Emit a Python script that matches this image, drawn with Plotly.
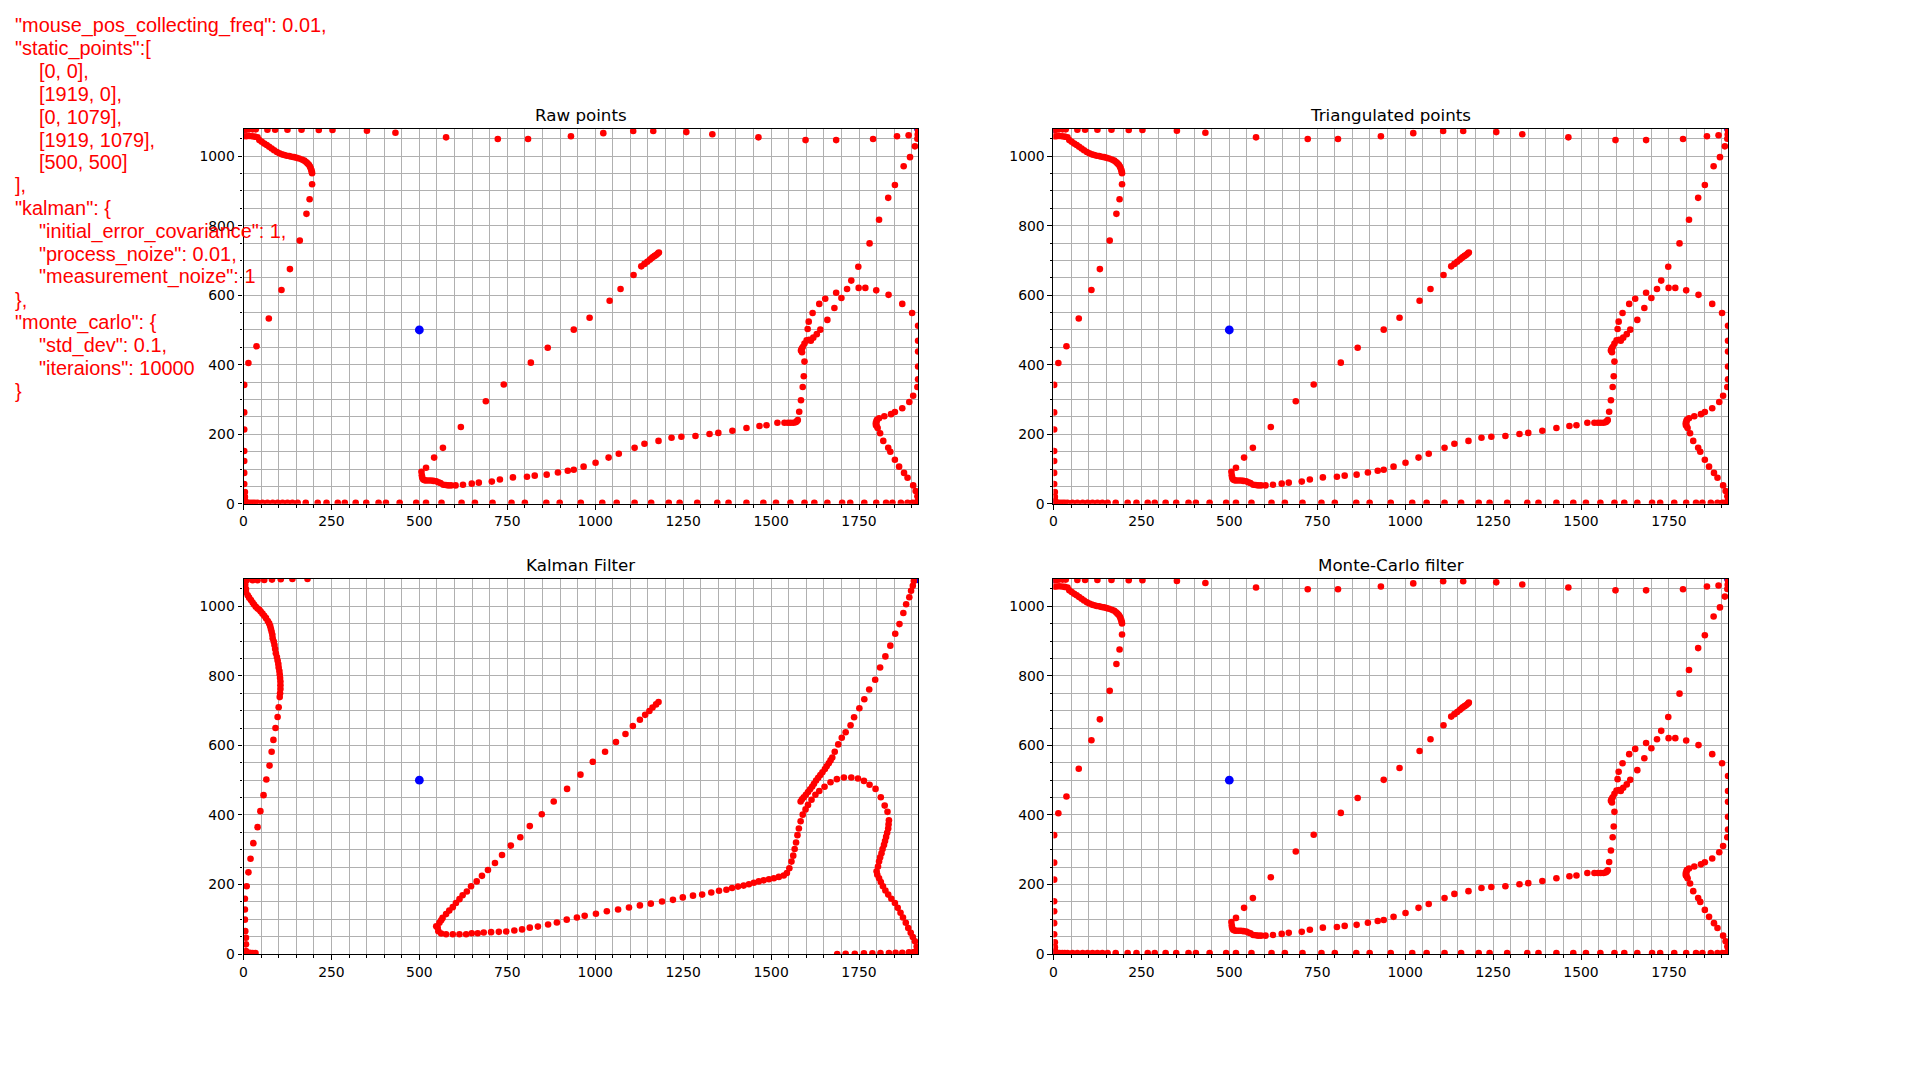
import plotly.graph_objects as go

W, H = 1920, 1080

# ---------------- data ----------------
static_pts = [(0, 0), (1919, 0), (0, 1079), (1919, 1079), (500, 500)]

raw_top = [(0, 1076), (8, 1076), (16, 1077), (26, 1077), (35, 1077), (68, 1076), (90, 1076),
           (125, 1076), (165, 1076), (214, 1075), (253, 1075), (351, 1073), (432, 1067),
           (576, 1054), (723, 1049), (809, 1049), (931, 1057), (1023, 1066), (1108, 1072),
           (1165, 1072), (1259, 1069), (1333, 1063), (1464, 1054), (1598, 1046), (1685, 1046),
           (1790, 1049), (1858, 1057), (1891, 1060), (1916, 1050), (1917, 1062), (1918, 1074)]

raw_left = [(0, 1057), (8, 1057), (16, 1058), (24, 1057), (32, 1056), (40, 1054), (45, 1046),
            (52, 1041), (59, 1036), (66, 1032), (73, 1027), (80, 1022), (87, 1017), (95, 1012),
            (102, 1008), (109, 1005), (116, 1003), (123, 1001), (130, 1000), (137, 998),
            (144, 997), (151, 995), (158, 993), (166, 990), (173, 987), (178, 983), (182, 979),
            (186, 975), (189, 970), (191, 965), (193, 960), (194, 955), (195, 951), (195, 919),
            (188, 876), (179, 834), (160, 757), (132, 675), (108, 615), (72, 533), (37, 453),
            (14, 405), (2, 342), (2, 263), (2, 214), (2, 152), (2, 123), (2, 89), (2, 57),
            (4, 34), (4, 20), (5, 8)]

raw_bottom_x = [2, 11, 18, 25, 32, 40, 54, 68, 83, 97, 111, 125, 139, 154, 177, 211, 236, 268,
                288, 319, 349, 384, 405, 444, 491, 519, 563, 620, 658, 708, 762, 800, 861, 899,
                959, 1020, 1061, 1112, 1159, 1209, 1240, 1290, 1347, 1379, 1430, 1478, 1514, 1555,
                1595, 1623, 1660, 1702, 1725, 1765, 1799, 1827, 1845, 1869, 1888, 1902, 1910,
                1916, 1919]
raw_bottom_level = 3

raw_lower = [(506, 92), (507, 82), (508, 76), (511, 70), (515, 68), (519, 67), (526, 67),
             (533, 67), (540, 66), (548, 65), (554, 62), (560, 60), (568, 55), (575, 54),
             (582, 53), (590, 53), (603, 53), (624, 55), (649, 58), (669, 61), (706, 64),
             (729, 70), (766, 76), (806, 78), (828, 81), (862, 84), (894, 90), (922, 95),
             (939, 98), (967, 107), (1001, 118), (1038, 133), (1067, 144), (1112, 161),
             (1140, 173), (1180, 181), (1217, 190), (1245, 193), (1285, 195), (1325, 201),
             (1350, 204), (1390, 210), (1430, 218), (1467, 224), (1487, 226), (1518, 233),
             (1538, 233), (1548, 233), (1556, 233), (1564, 233), (1571, 235), (1574, 238),
             (1576, 241)]

raw_diag = [(519, 104), (542, 133), (567, 161), (618, 221), (689, 295), (740, 343), (817, 406),
            (865, 449), (939, 501), (984, 535), (1041, 584), (1072, 618), (1109, 658),
            (1131, 683), (1140, 690), (1148, 696), (1155, 702), (1160, 706), (1164, 710),
            (1169, 713), (1174, 716), (1178, 720), (1181, 723)]

raw_rise = [(1580, 265), (1585, 298), (1590, 336), (1593, 367), (1595, 409), (1588, 436),
            (1585, 441), (1587, 446), (1590, 451), (1595, 461), (1601, 470), (1608, 472),
            (1613, 469), (1620, 478), (1630, 488), (1640, 501), (1604, 503), (1607, 524),
            (1618, 549), (1637, 575), (1654, 590), (1685, 607), (1716, 618), (1728, 642),
            (1748, 682), (1780, 749), (1807, 817), (1833, 880), (1852, 917), (1877, 971),
            (1895, 997), (1909, 1028), (1660, 529), (1680, 563), (1700, 592), (1749, 621),
            (1768, 621), (1799, 614), (1834, 601), (1873, 575), (1901, 549)]

raw_right = [(1918, 512), (1918, 469), (1918, 438), (1918, 395), (1918, 358), (1916, 336),
             (1904, 311), (1893, 293), (1873, 275), (1852, 264), (1841, 258), (1822, 252),
             (1807, 246), (1801, 242), (1800, 238), (1798, 233), (1799, 230), (1798, 227),
             (1800, 224), (1803, 218), (1810, 203), (1819, 181), (1833, 161), (1839, 150),
             (1852, 127), (1864, 107), (1878, 89), (1888, 75), (1904, 53), (1911, 37),
             (1916, 22), (1918, 8)]

kal_left = [(2, 1075), (5, 1062), (7, 1050), (7, 1041), (12, 1032), (16, 1025), (21, 1018),
            (26, 1011), (30, 1005), (35, 999), (40, 994), (45, 990), (49, 985), (54, 979),
            (59, 973), (64, 966), (69, 958), (73, 951), (76, 943), (78, 935), (80, 927),
            (82, 918), (83, 908), (86, 899), (88, 889), (90, 877), (92, 865), (95, 854),
            (97, 844), (99, 834), (100, 824), (102, 814), (103, 804), (104, 794), (105, 784),
            (105, 773), (105, 762), (104, 750), (103, 739), (100, 710), (97, 682), (91, 650),
            (85, 616), (80, 582), (74, 542), (65, 502), (57, 457), (48, 411), (40, 365),
            (28, 319), (20, 274), (14, 235), (9, 195), (4, 159), (4, 128), (4, 99), (5, 66),
            (7, 47), (7, 28), (7, 9), (2, 4), (10, 4), (18, 4), (26, 3), (34, 3),
            (9, 1075), (26, 1075), (40, 1075), (59, 1076), (81, 1077), (106, 1078),
            (139, 1079), (182, 1079)]

kal_diag = [(548, 80), (552, 76), (557, 90), (562, 97), (566, 104), (576, 115), (585, 125),
            (595, 135), (604, 147), (614, 158), (623, 169), (635, 180), (647, 195), (663, 209),
            (678, 225), (695, 242), (715, 262), (735, 285), (760, 312), (787, 336), (814, 368),
            (848, 402), (882, 439), (920, 475), (958, 516), (993, 553), (1028, 582),
            (1059, 610), (1086, 633), (1107, 656), (1127, 674), (1142, 688), (1154, 699),
            (1163, 709), (1173, 718), (1180, 725)]

kal_lower = [(554, 66), (562, 59), (576, 57), (595, 57), (614, 57), (633, 57), (649, 60),
             (666, 60), (683, 62), (704, 63), (726, 64), (747, 65), (770, 68), (792, 71),
             (814, 76), (837, 79), (866, 85), (891, 91), (919, 99), (948, 105), (970, 110),
             (1002, 116), (1033, 123), (1065, 128), (1096, 134), (1127, 140), (1158, 145),
             (1190, 151), (1221, 156), (1249, 163), (1278, 168), (1304, 171), (1330, 177),
             (1352, 182), (1373, 185), (1389, 190), (1406, 194), (1422, 197), (1437, 201),
             (1451, 205), (1465, 209), (1479, 212), (1494, 215), (1508, 218), (1522, 222),
             (1536, 226), (1545, 233), (1552, 247), (1558, 266), (1563, 283), (1567, 302),
             (1571, 321), (1575, 342), (1579, 361), (1584, 382), (1590, 401), (1598, 416),
             (1605, 429), (1615, 444), (1626, 458), (1637, 469), (1652, 481), (1669, 494),
             (1687, 503), (1707, 508), (1728, 508), (1747, 505), (1764, 498), (1780, 487),
             (1797, 475), (1812, 451), (1823, 427), (1831, 409), (1835, 385), (1834, 373),
             (1833, 361), (1830, 349), (1827, 337), (1824, 325), (1821, 314), (1817, 302),
             (1814, 290), (1810, 278), (1807, 266), (1804, 252), (1800, 238), (1802, 228),
             (1807, 218), (1812, 207), (1818, 195), (1825, 183), (1833, 171), (1842, 159),
             (1852, 147), (1860, 133), (1868, 119), (1875, 105), (1883, 90), (1890, 75),
             (1897, 61), (1903, 49), (1909, 37), (1914, 22), (1919, 9)]

kal_upper = [(1584, 439), (1588, 445), (1593, 451), (1599, 458), (1605, 466), (1611, 474),
             (1617, 482), (1622, 490), (1628, 499), (1634, 507), (1640, 515), (1646, 523),
             (1653, 532), (1658, 540), (1664, 549), (1669, 557), (1674, 565), (1681, 582),
             (1691, 603), (1701, 622), (1712, 638), (1726, 658), (1736, 681), (1751, 707),
             (1765, 733), (1779, 761), (1796, 789), (1810, 824), (1825, 856), (1839, 887),
             (1853, 921), (1865, 949), (1876, 981), (1884, 1006), (1893, 1026), (1898, 1045),
             (1903, 1059), (1906, 1073)]

kal_bottom = [(1688, 0), (1712, 1), (1738, 1), (1764, 2), (1788, 2), (1811, 3), (1835, 3),
              (1854, 4), (1873, 4), (1892, 5), (1906, 6), (1915, 8)]

panel_titles = ["Raw points", "Triangulated points", "Kalman Filter", "Monte-Carlo filter"]
x_tick_vals = [0, 250, 500, 750, 1000, 1250, 1500, 1750]
y_tick_vals = [0, 200, 400, 600, 800, 1000]

config_lines = [
    (0, '"mouse_pos_collecting_freq": 0.01,'),
    (0, '"static_points":['),
    (1, '[0, 0],'),
    (1, '[1919, 0],'),
    (1, '[0, 1079],'),
    (1, '[1919, 1079],'),
    (1, '[500, 500]'),
    (0, '],'),
    (0, '"kalman": {'),
    (1, '"initial_error_covariance": 1,'),
    (1, '"process_noize": 0.01,'),
    (1, '"measurement_noize": 1'),
    (0, '},'),
    (0, '"monte_carlo": {'),
    (1, '"std_dev": 0.1,'),
    (1, '"iteraions": 10000'),
    (0, '}'),
]

# ---------------- assemble series ----------------
def unzip(*segs):
    xs, ys = [], []
    for seg in segs:
        for a, b in seg:
            xs.append(a)
            ys.append(b)
    return xs, ys

raw_bottom = [(v, raw_bottom_level) for v in raw_bottom_x]
raw_x, raw_y = unzip(raw_top, raw_left, raw_bottom, raw_lower, raw_diag, raw_rise, raw_right)
tri_x, tri_y = list(raw_x), list(raw_y)
mc_x, mc_y = list(raw_x), list(raw_y)
kal_x, kal_y = unzip(kal_left, kal_diag, kal_lower, kal_upper, kal_bottom)
static_x, static_y = unzip(static_pts)

# ---------------- layout geometry (matplotlib default subplot params) ----------------
LEFT, RIGHT, BOTTOM, TOP = 0.125, 0.9, 0.11, 0.88
aw = (RIGHT - LEFT) / 2.2
ah = (TOP - BOTTOM) / 2.2
xdoms = [[LEFT, LEFT + aw], [RIGHT - aw, RIGHT]]
ydoms = [[TOP - ah, TOP], [BOTTOM, BOTTOM + ah]]

panels = [
    (raw_x, raw_y, 0, 0),
    (tri_x, tri_y, 1, 0),
    (kal_x, kal_y, 0, 1),
    (mc_x, mc_y, 1, 1),
]

fig = go.Figure()
GRID = "#b0b0b0"
TICKFONT = dict(family="DejaVu Sans", size=13.9, color="black")

for i, (px, py, col, row) in enumerate(panels):
    n = i + 1
    xa = "x" if n == 1 else f"x{n}"
    ya = "y" if n == 1 else f"y{n}"
    fig.add_trace(go.Scatter(
        x=static_x, y=static_y, mode="markers", xaxis=xa, yaxis=ya,
        marker=dict(color="#0000ff", size=8.8, line=dict(width=0)),
        showlegend=False, hoverinfo="skip", cliponaxis=True))
    fig.add_trace(go.Scatter(
        x=px, y=py, mode="markers", xaxis=xa, yaxis=ya,
        marker=dict(color="#ff0000", size=6.6, line=dict(width=0)),
        showlegend=False, hoverinfo="skip", cliponaxis=True))

    axis_common = dict(
        ticks="outside", ticklen=4.9, tickwidth=1.1, tickcolor="black", tickfont=TICKFONT,
        showgrid=True, gridcolor=GRID, gridwidth=1.1, zeroline=False,
        showline=True, linecolor="black", linewidth=1.1, mirror=True,
        minor=dict(dtick=50, tick0=0, showgrid=True, gridcolor=GRID, gridwidth=1.1,
                   ticks="outside", ticklen=2.8, tickwidth=0.8, tickcolor="black"),
        fixedrange=True, tickmode="array",
    )
    xkey = "xaxis" if n == 1 else f"xaxis{n}"
    ykey = "yaxis" if n == 1 else f"yaxis{n}"
    fig.layout[xkey] = dict(domain=xdoms[col], anchor=ya, range=[0, 1919],
                            tickvals=x_tick_vals, **axis_common)
    fig.layout[ykey] = dict(domain=ydoms[row], anchor=xa, range=[0, 1079],
                            tickvals=y_tick_vals, **axis_common)

annotations = []
for i, (px, py, col, row) in enumerate(panels):
    cx = (xdoms[col][0] + xdoms[col][1]) / 2
    top_px = (1 - ydoms[row][1]) * H
    center_px = top_px - 8.3 - 5.8
    annotations.append(dict(
        text=panel_titles[i], x=cx, y=1 - center_px / H, xref="paper", yref="paper",
        xanchor="center", yanchor="middle", showarrow=False,
        font=dict(family="DejaVu Sans", size=16.7, color="black")))

for k, (indent, line) in enumerate(config_lines):
    baseline = 32.3 + 23.05 * k
    cy = baseline - 6.9
    xpx = 11 + 24 * indent
    annotations.append(dict(
        text=line, x=xpx / W, y=1 - cy / H, xref="paper", yref="paper",
        xanchor="left", yanchor="middle", showarrow=False, borderpad=0, borderwidth=0,
        font=dict(family="Liberation Sans", size=19.9, color="#ff0000")))

fig.update_layout(
    width=W, height=H, margin=dict(l=0, r=0, t=0, b=0),
    paper_bgcolor="white", plot_bgcolor="white",
    annotations=annotations,
)

fig.write_html("out.html", config={"displayModeBar": False},
               post_script="document.body.style.margin='0px';")
